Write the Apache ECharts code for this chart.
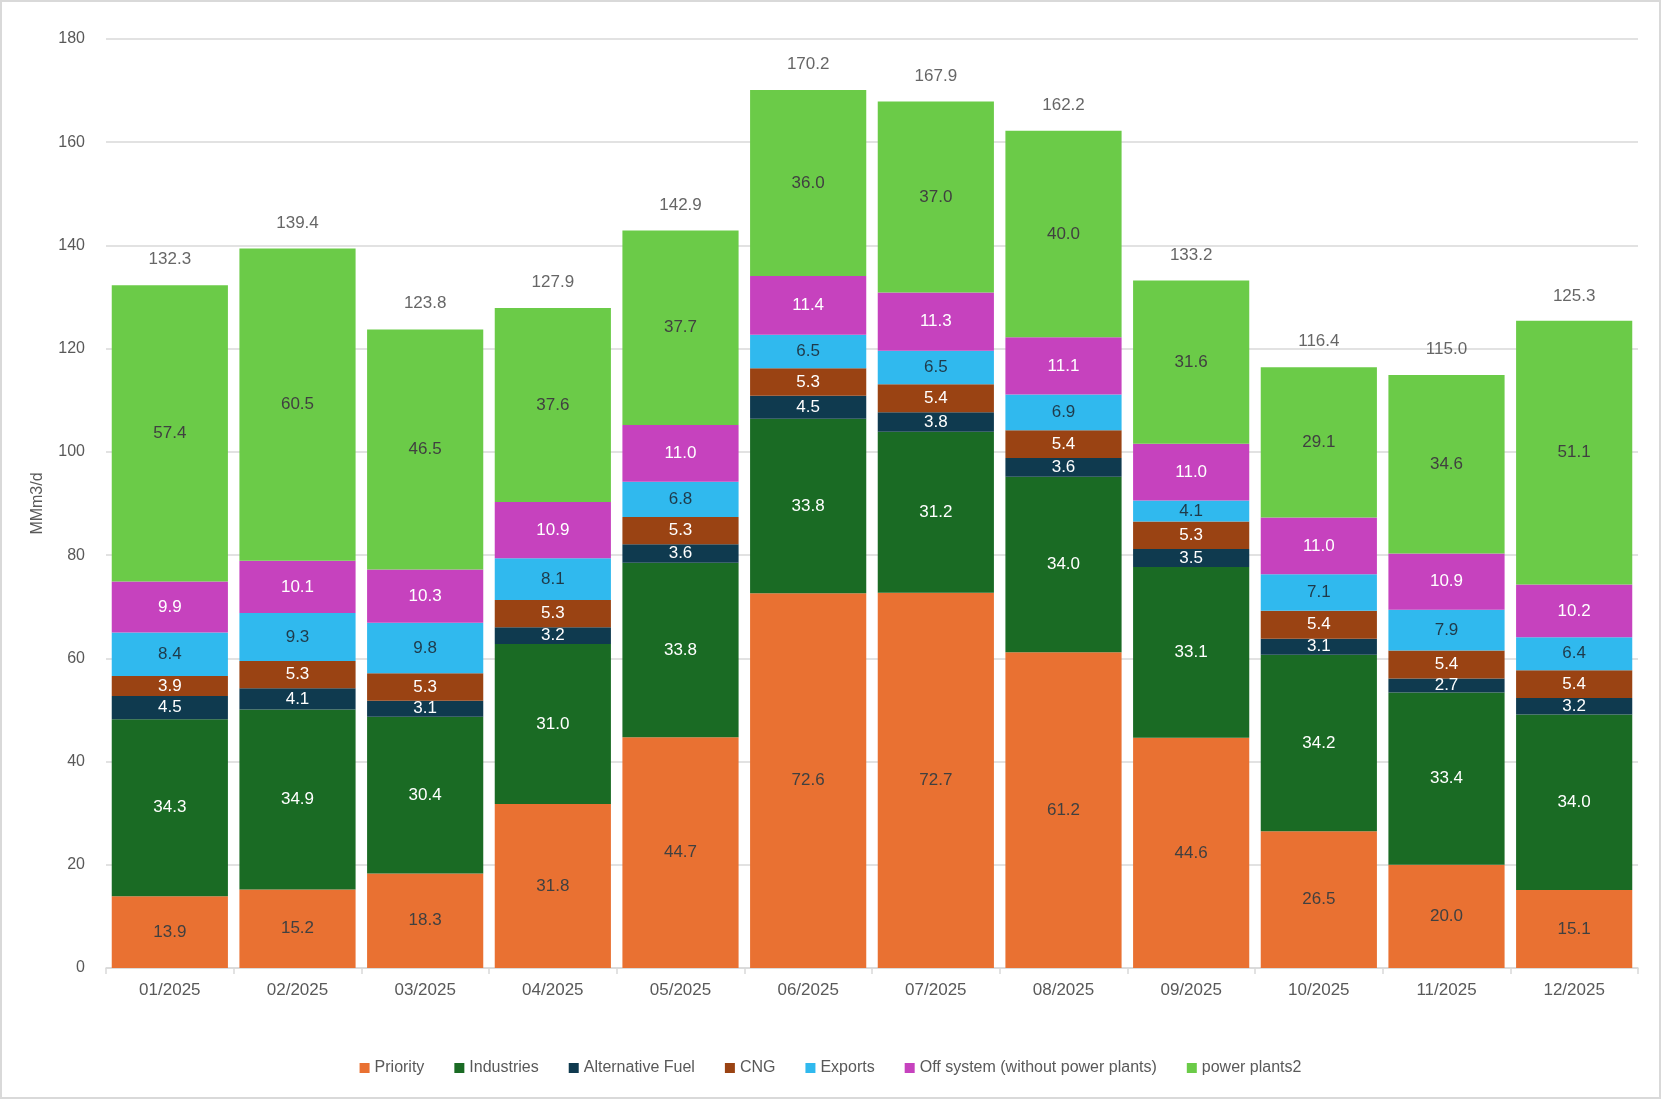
<!DOCTYPE html>
<html><head><meta charset="utf-8">
<script src="https://cdn.jsdelivr.net/npm/echarts@6/dist/echarts.min.js"></script>
<style>html,body{margin:0;padding:0;background:#fff}#c{width:1661px;height:1099px;box-sizing:border-box;border:2px solid #d9d9d9}</style>
</head><body><div id="c"></div>
<script>
const categories = ['01/2025','02/2025','03/2025','04/2025','05/2025','06/2025','07/2025','08/2025','09/2025','10/2025','11/2025','12/2025'];
const priority = [13.9,15.2,18.3,31.8,44.7,72.6,72.7,61.2,44.6,26.5,20.0,15.1];
const industries = [34.3,34.9,30.4,31.0,33.8,33.8,31.2,34.0,33.1,34.2,33.4,34.0];
const altFuel = [4.5,4.1,3.1,3.2,3.6,4.5,3.8,3.6,3.5,3.1,2.7,3.2];
const cng = [3.9,5.3,5.3,5.3,5.3,5.3,5.4,5.4,5.3,5.4,5.4,5.4];
const exportsV = [8.4,9.3,9.8,8.1,6.8,6.5,6.5,6.9,4.1,7.1,7.9,6.4];
const offSystem = [9.9,10.1,10.3,10.9,11.0,11.4,11.3,11.1,11.0,11.0,10.9,10.2];
const powerPlants = [57.4,60.5,46.5,37.6,37.7,36.0,37.0,40.0,31.6,29.1,34.6,51.1];
const totals = [132.3,139.4,123.8,127.9,142.9,170.2,167.9,162.2,133.2,116.4,115.0,125.3];
const yTicks = [0,20,40,60,80,100,120,140,160,180];

const FONT = '"Liberation Sans", Arial, sans-serif';
function bar(name, data, color, labelColor){
  return {name, type:'bar', stack:'s', data, barCategoryGap:'9%',
    itemStyle:{color},
    label:{show:true, position:'inside', color:labelColor, fontSize:17, fontFamily:FONT,
      formatter:p=>p.value.toFixed(1)}};
}
const chart = echarts.init(document.getElementById('c'));
chart.setOption({
  animation:false,
  textStyle:{fontFamily:FONT},
  grid:{left:104, right:21, top:37, bottom:129},
  legend:{bottom:16, left:'center', itemWidth:10, itemHeight:10, itemGap:30,
    icon:'rect',
    textStyle:{fontSize:16, color:'#595959', fontFamily:FONT},
    data:['Priority','Industries','Alternative Fuel','CNG','Exports','Off system (without power plants)','power plants2']},
  xAxis:{type:'category', data:categories,
    axisLine:{lineStyle:{color:'#d9d9d9', width:1.5}},
    axisTick:{show:true, length:6, lineStyle:{color:'#d9d9d9', width:1.5}},
    axisLabel:{color:'#595959', fontSize:17, margin:14, fontFamily:FONT}},
  yAxis:{type:'value', min:yTicks[0], max:yTicks[yTicks.length-1], interval:20,
    name:'MMm3/d', nameLocation:'middle', nameGap:60, nameRotate:90,
    nameTextStyle:{color:'#595959', fontSize:16, fontFamily:FONT},
    axisLine:{show:false}, axisTick:{show:false},
    axisLabel:{color:'#595959', fontSize:16, margin:21, fontFamily:FONT},
    splitLine:{lineStyle:{color:'#d9d9d9', width:1.5}}},
  series:[
    bar('Priority', priority, '#E97132', '#404040'),
    bar('Industries', industries, '#1A6B24', '#ffffff'),
    bar('Alternative Fuel', altFuel, '#0F3A4F', '#ffffff'),
    bar('CNG', cng, '#9A4313', '#ffffff'),
    bar('Exports', exportsV, '#30B9EE', '#1F3A4A'),
    bar('Off system (without power plants)', offSystem, '#C642BE', '#ffffff'),
    bar('power plants2', powerPlants, '#6BCB48', '#404040'),
    {name:'Total', type:'scatter', data:totals, symbol:'circle', symbolSize:2,
      itemStyle:{color:'rgba(0,0,0,0)'}, silent:true, z:10,
      label:{show:true, position:'top', distance:16, color:'#404040', fontSize:17, fontFamily:FONT,
        formatter:p=>p.value.toFixed(1)}}
  ]
});
</script></body></html>
